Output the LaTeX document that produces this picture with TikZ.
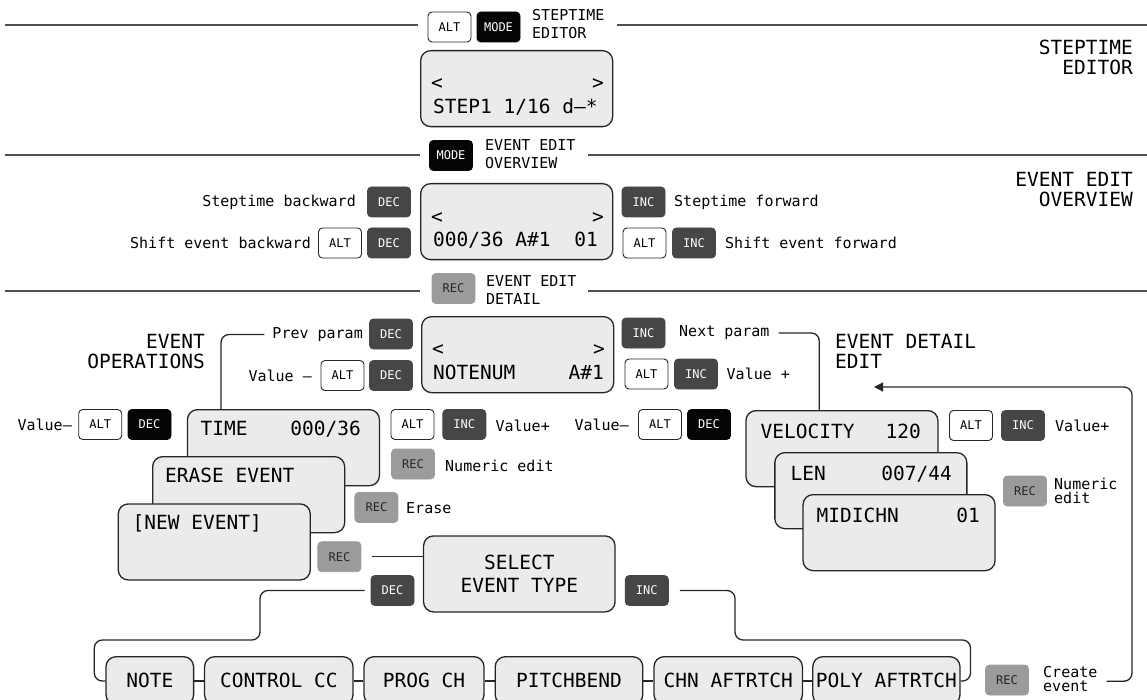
\documentclass[tikz,border=0pt]{standalone}
\usepackage{fontspec}
\setmainfont{DejaVu Sans Mono}
\usetikzlibrary{arrows.meta,calc}
\definecolor{keydark}{HTML}{464646}
\definecolor{keyblack}{HTML}{050505}
\definecolor{keyrec}{HTML}{9B9B9B}
\definecolor{lcdfill}{HTML}{EBEBEB}
\definecolor{edgec}{HTML}{262626}
\definecolor{rulec}{HTML}{505050}
\begin{document}
\begin{tikzpicture}[x=1pt,y=-1pt,
 key/.style={draw=edgec, line width=0.9pt, rounded corners=4pt, minimum width=43pt, minimum height=30pt, inner sep=0pt, font=\fontsize{12}{12}\selectfont},
 altkey/.style={key, fill=white, text=black},
 darkkey/.style={key, draw=keydark, fill=keydark, text=white},
 blackkey/.style={key, draw=keyblack, fill=keyblack, text=white},
 reckey/.style={key, draw=keyrec, fill=keyrec, text=black!85},
 panel/.style={draw=edgec, line width=1.3pt, fill=lcdfill, rounded corners=10pt, inner sep=0pt},
 lcd/.style={panel, minimum width=192pt, minimum height=76pt, anchor=north west},
 lcdtxt/.style={inner sep=0pt, font=\fontsize{19.5}{22}\selectfont, text height=14.2pt, text depth=0pt},
 lbl/.style={inner sep=0pt, font=\fontsize{15}{18}\selectfont},
 small/.style={inner sep=0pt, font=\fontsize{15}{14.5}\selectfont},
 head/.style={inner sep=0pt, font=\fontsize{19.5}{20}\selectfont},
 sect/.style={draw=rulec, line width=1.4pt},
 conn/.style={draw=edgec, line width=1.3pt, rounded corners=8pt},
 tab/.style={panel, minimum height=48pt, font=\fontsize{19.5}{22}\selectfont, text height=14.2pt, text depth=0pt},
]
\clip (0,0) rectangle (1147,700);
% ---------- section 1
\draw[sect] (5,25) -- (418,25);
\draw[sect] (617,25) -- (1147,25);
\node[altkey] (alt1) at (449.5,27) {ALT};
\node[blackkey] (mode1) at (498.5,27) {MODE};
\node[lbl, align=left, anchor=west] (t1) at (532,24) {STEPTIME\\EDITOR};
\node[lcd] (lcd1) at (420,50) {};
\node[lcdtxt, anchor=west] (l1a) at (431,82) {<};
\node[lcdtxt, anchor=east] (l1b) at (604,82) {>};
\node[lcdtxt, anchor=west] (l1c) at (433,106) {STEP1 1/16 d–*};
\node[head, align=right, anchor=east] (h1) at (1133,57) {STEPTIME\\EDITOR};
% ---------- section 2
\draw[sect] (5,155) -- (420,155);
\draw[sect] (588,155) -- (1147,155);
\node[blackkey] (mode2) at (451,155.5) {MODE};
\node[lbl, align=left, anchor=west] (t2) at (485,154) {EVENT EDIT\\OVERVIEW};
\node[lcd] (lcd2) at (420,183) {};
\node[lcdtxt, anchor=west] (l2a) at (431,216) {<};
\node[lcdtxt, anchor=east] (l2b) at (604,216) {>};
\node[lcdtxt, anchor=west] (l2c) at (433,239) {000/36 A\#1};
\node[lcdtxt, anchor=east] (l2d) at (598,239) {01};
\node[darkkey] (dec2a) at (389,202) {DEC};
\node[lbl, anchor=east] (s2a) at (356,202) {Steptime backward};
\node[altkey] (alt2b) at (340,243) {ALT};
\node[darkkey] (dec2b) at (389,243) {DEC};
\node[lbl, anchor=east] (s2b) at (311,243) {Shift event backward};
\node[darkkey] (inc2a) at (643.5,202) {INC};
\node[lbl, anchor=west] (s2c) at (674,202) {Steptime forward};
\node[altkey] (alt2c) at (644.5,243) {ALT};
\node[darkkey] (inc2b) at (694,243) {INC};
\node[lbl, anchor=west] (s2d) at (725,243) {Shift event forward};
\node[head, align=right, anchor=east] (h2) at (1133,190) {EVENT EDIT\\OVERVIEW};
% ---------- section 3
\draw[sect] (5,291) -- (420,291);
\draw[sect] (588,291) -- (1147,291);
\node[reckey] (rec3) at (453.5,288.5) {REC};
\node[lbl, align=left, anchor=west] (t3) at (486,290.5) {EVENT EDIT\\DETAIL};
\node[lcd] (lcd3) at (421,316) {};
\node[lcdtxt, anchor=west] (l3a) at (432,348) {<};
\node[lcdtxt, anchor=east] (l3b) at (605,348) {>};
\node[lcdtxt, anchor=west] (l3c) at (433,372) {NOTENUM};
\node[lcdtxt, anchor=east] (l3d) at (604,372) {A\#1};
\node[darkkey] (dec3a) at (391,334) {DEC};
\node[lbl, anchor=east] (prev) at (363,334.5) {Prev param};
\node[altkey] (alt3b) at (342.5,375.5) {ALT};
\node[darkkey] (dec3b) at (391,375.5) {DEC};
\node[lbl, anchor=east] (s3b) at (312,375.5) {Value –};
\node[darkkey] (inc3a) at (643.5,333) {INC};
\node[lbl, anchor=west] (next) at (679,333) {Next param};
\node[altkey] (alt3c) at (646.5,374) {ALT};
\node[darkkey] (inc3b) at (696,374) {INC};
\node[lbl, anchor=west] (s3d) at (726.5,374) {Value +};
\node[head, align=right, anchor=east] (ops) at (205,351.7) {EVENT\\OPERATIONS};
\node[head, align=left, anchor=west] (det) at (835,351) {EVENT DETAIL\\EDIT};
% ---------- event operations stack
\node[lbl, anchor=east] (v4a) at (72,425) {Value–};
\node[altkey] (alt4a) at (100.2,424.5) {ALT};
\node[blackkey] (dec4a) at (149.5,424.5) {DEC};
\node[lcd] (timebox) at (186.8,409) {};
\node[lcdtxt, anchor=west] (tm1) at (200.5,428) {TIME};
\node[lcdtxt, anchor=east] (tm2) at (361,428) {000/36};
\node[lcd] (erasebox) at (152,456) {};
\node[lcdtxt, anchor=west] (er1) at (165,475.5) {ERASE EVENT};
\node[lcd] (newbox) at (117.6,503.3) {};
\node[lcdtxt, anchor=west] (nw1) at (132.5,522.5) {[NEW EVENT]};
\node[altkey] (alt4b) at (412.5,424.5) {ALT};
\node[darkkey] (inc4b) at (464.3,424.5) {INC};
\node[lbl, anchor=west] (v4b) at (495.4,425.5) {Value+};
\node[reckey] (rec4n) at (413,464) {REC};
\node[lbl, anchor=west] (ne1) at (445,465.5) {Numeric edit};
\node[reckey] (rec4e) at (376.4,507.5) {REC};
\node[lbl, anchor=west] (era) at (406,508.5) {Erase};
\node[reckey] (rec4s) at (339.4,556.7) {REC};
\node[panel, minimum width=191.5pt, minimum height=76pt, align=center, font=\fontsize{19.5}{22.3}\selectfont] (select) at (519.3,573.9) {SELECT\\EVENT TYPE};
\node[darkkey] (decS) at (392.5,590.5) {DEC};
\node[darkkey] (incS) at (646.8,590.5) {INC};
% ---------- event detail stack
\node[lbl, anchor=east] (v4c) at (629,425) {Value–};
\node[altkey] (alt4c) at (660,424.5) {ALT};
\node[blackkey] (dec4c) at (709,424.5) {DEC};
\node[lcd] (velbox) at (745.3,410) {};
\node[lcdtxt, anchor=west] (ve1) at (760.5,431) {VELOCITY};
\node[lcdtxt, anchor=east] (ve2) at (921,431) {120};
\node[lcd] (lenbox) at (774.2,452) {};
\node[lcdtxt, anchor=west] (le1) at (790.5,473) {LEN};
\node[lcdtxt, anchor=east] (le2) at (952,473) {007/44};
\node[lcd] (midibox) at (802.4,494) {};
\node[lcdtxt, anchor=west] (mi1) at (816.5,515) {MIDICHN};
\node[lcdtxt, anchor=east] (mi2) at (980,515) {01};
\node[altkey] (alt4d) at (971,425.5) {ALT};
\node[darkkey] (inc4d) at (1023,425.5) {INC};
\node[lbl, anchor=west] (v4d) at (1055,426) {Value+};
\node[reckey] (rec4d) at (1025,491) {REC};
\node[small, align=left, anchor=west] (ne2) at (1054,491) {Numeric\\edit};
% ---------- event types
\node[reckey] (recC) at (1007,680) {REC};
\node[small, align=left, anchor=west] (create) at (1043,679.2) {Create\\event};
\coordinate (row) at (0,681);
\node[tab, minimum width=87.6pt] (note) at (149.8,680.7) {NOTE};
\node[tab, minimum width=148.5pt] (cc) at (278.8,680.7) {CONTROL CC};
\node[tab, minimum width=120pt] (prog) at (424,680.7) {PROG CH};
\node[tab, minimum width=147.6pt] (pitch) at (569,680.7) {PITCHBEND};
\node[tab, minimum width=148.4pt] (chn) at (728.2,680.7) {CHN AFTRTCH};
\node[tab, minimum width=147.2pt] (poly) at (886.4,680.7) {POLY AFTRTCH};
% ---------- connectors
\draw[conn] ([xshift=-8pt]prev.west) -| ([xshift=34.2pt]timebox.north west);
\draw[conn] ([xshift=9pt]next.east) -| ([xshift=74pt]velbox.north west);
\draw[conn] ([xshift=11pt]rec4s.east) -- (select.west |- rec4s.east);
\draw[conn] ([xshift=-6pt]decS.west) -| (260,640) -| (94.3,681) -- (note.west |- row);
\draw[conn] ([xshift=11pt]incS.east) -| (735,640) -| (970.5,681) -- (poly.east |- row);
\draw[conn] (note.east |- row) -- (cc.west |- row);
\draw[conn] (cc.east |- row) -- (prog.west |- row);
\draw[conn] (prog.east |- row) -- (pitch.west |- row);
\draw[conn] (pitch.east |- row) -- (chn.west |- row);
\draw[conn] (chn.east |- row) -- (poly.west |- row);
\coordinate (arr) at (874,387);
\draw[conn, -{Triangle[length=9pt,width=9pt]}] ([xshift=9pt,yshift=-2pt]create.east) -| (1132,387) -- (arr);
\end{tikzpicture}
\end{document}
